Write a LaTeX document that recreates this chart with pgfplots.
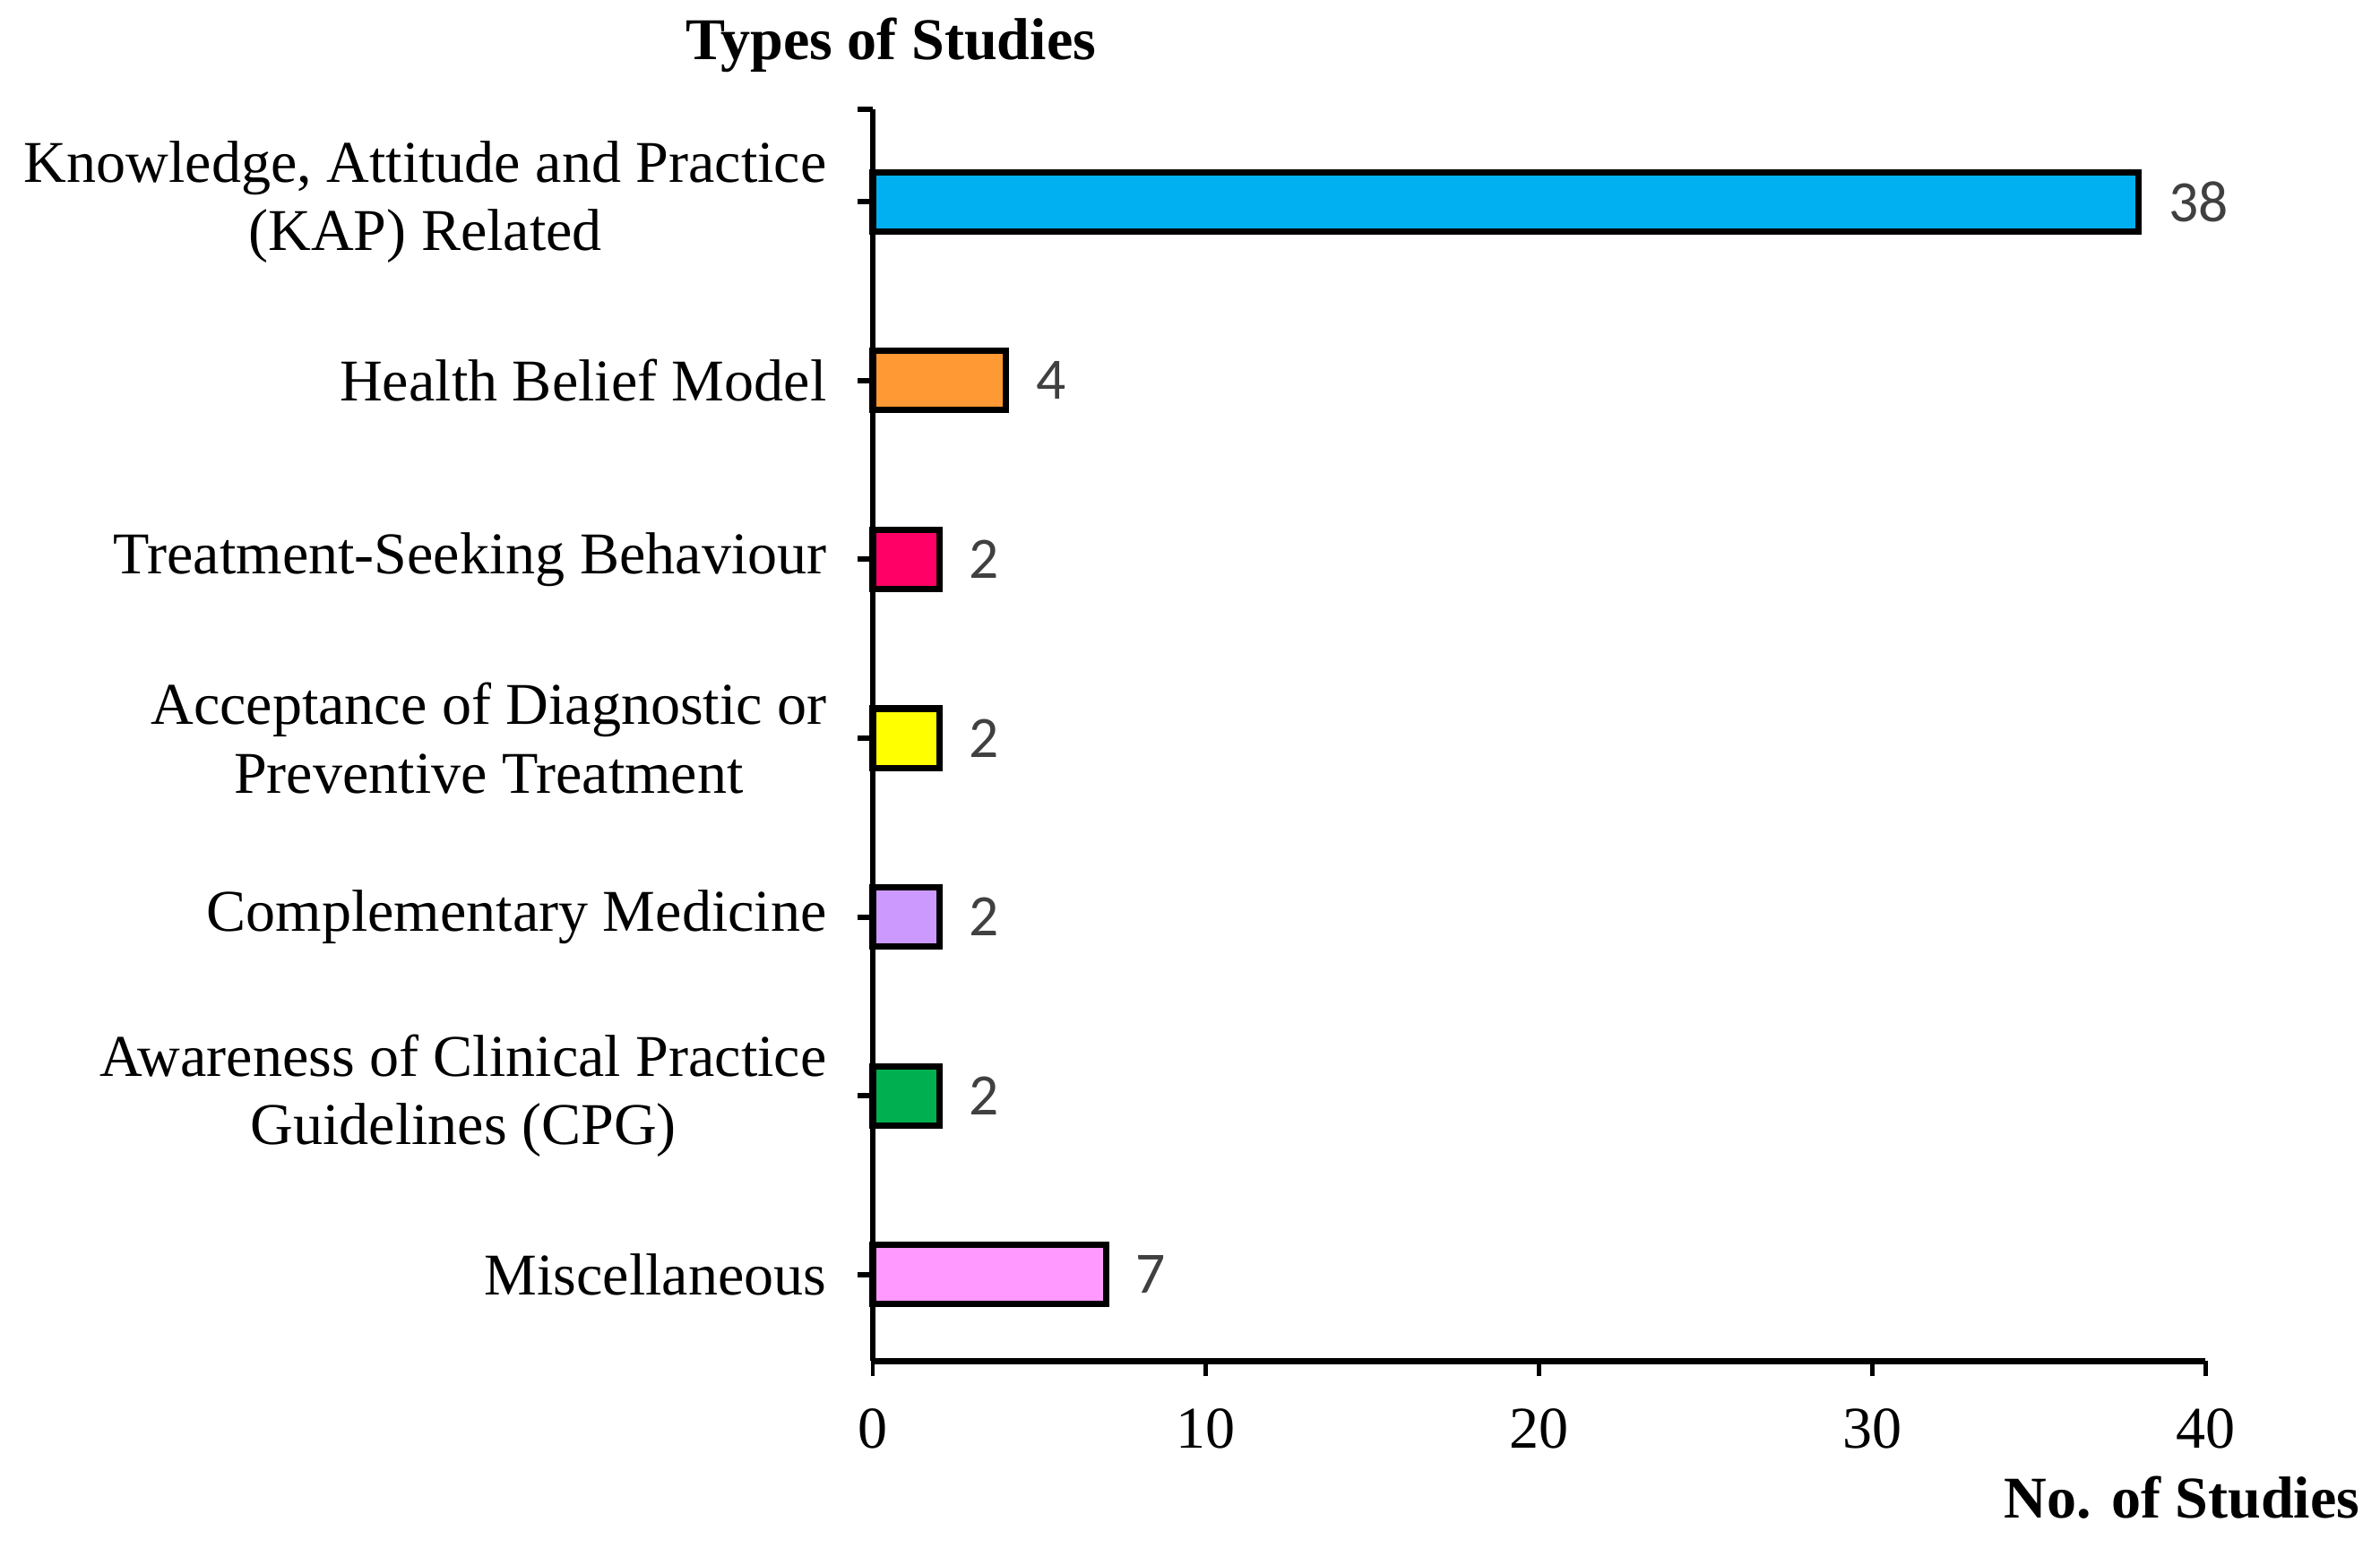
\documentclass[border=0pt]{standalone}
\usepackage{pgfplots}
\pgfplotsset{compat=1.18}
\usepackage{fontspec}
\setmainfont{Liberation Serif}
\newfontfamily\calibri{Carlito}
\definecolor{cKAP}{HTML}{00B0F0}
\definecolor{cHBM}{HTML}{FF9933}
\definecolor{cTSB}{HTML}{FF0066}
\definecolor{cACC}{HTML}{FFFF00}
\definecolor{cCM}{HTML}{CC99FF}
\definecolor{cCPG}{HTML}{00B050}
\definecolor{cMIS}{HTML}{FF99FF}
\definecolor{vgray}{HTML}{404040}
\begin{document}
\begin{tikzpicture}
\useasboundingbox (0,0) rectangle (15.68,10.2);
\begin{axis}[
  at={(5.75cm,1.23cm)}, anchor=south west,
  scale only axis, width=8.78cm, height=8.25cm,
  xbar, bar shift=0pt, bar width=0.39cm,
  xmin=0, xmax=40, ymin=-0.484, ymax=6.518,
  xtick={0,10,20,30,40},
  ytick={0,1,2,3,4,5,6},
  yticklabels={Miscellaneous,
    {Awareness of Clinical Practice\\Guidelines (CPG)},
    Complementary Medicine,
    {Acceptance of Diagnostic or\\Preventive Treatment},
    Treatment-Seeking Behaviour,
    Health Belief Model,
    {Knowledge, Attitude and Practice\\(KAP) Related}},
  extra y ticks={6.518}, extra y tick labels={},
  axis x line*=bottom, axis y line*=left,
  x axis line style={-, line width=1.3pt},
  y axis line style={-, line width=1pt},
  tick align=outside, major tick length=0.1cm,
  tick style={black, line width=1pt},
  xtick style={line width=0.8pt},
  /pgf/number format/assume math mode=true,
  ticklabel style={font=\fontsize{11.1}{12.8}\selectfont},
  y tick label style={align=center, xshift=-0.08cm},
  x tick label style={yshift=-0.09cm},
  clip=false,
  point meta=x,
  nodes near coords,
  every node near coord/.append style={font=\calibri\fontsize{11}{13}\selectfont, text=vgray, anchor=west, xshift=0.06cm},
  every axis plot/.append style={draw=black, line width=1.2pt},
]
\addplot[fill=cKAP] coordinates {(38,6)};
\addplot[fill=cHBM] coordinates {(4,5)};
\addplot[fill=cTSB] coordinates {(2,4)};
\addplot[fill=cACC] coordinates {(2,3)};
\addplot[fill=cCM] coordinates {(2,2)};
\addplot[fill=cCPG] coordinates {(2,1)};
\addplot[fill=cMIS] coordinates {(7,0)};
\end{axis}
\node[font=\bfseries\fontsize{11.1}{13}\selectfont] at (5.87,9.90) {Types of Studies};
\node[font=\bfseries\fontsize{11.1}{13}\selectfont, anchor=east] at (15.67,0.33) {No. of Studies};
\end{tikzpicture}
\end{document}
